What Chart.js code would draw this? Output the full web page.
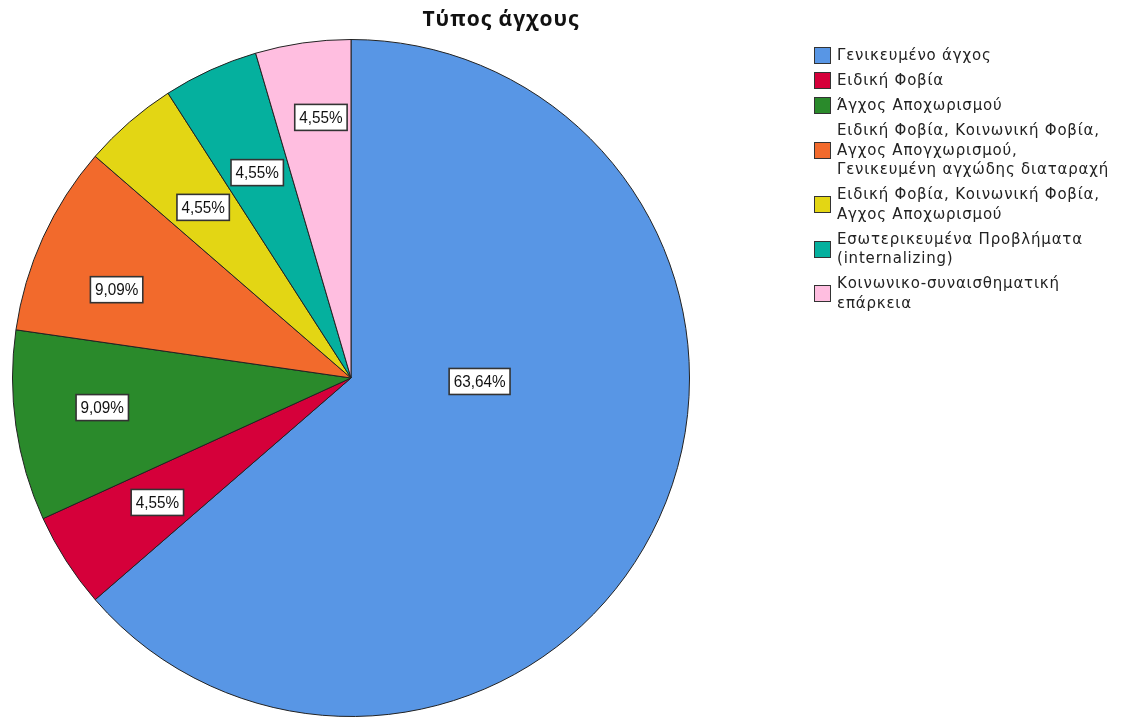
<!DOCTYPE html>
<html>
<head>
<meta charset="utf-8">
<script src="https://cdn.jsdelivr.net/npm/chart.js@4/dist/chart.umd.min.js"></script>
<style>
  body { margin: 0; background: #fff; }
  #wrap { position: relative; width: 1124px; height: 719px; }
  #title { position: absolute; left: 351px; width: 300px; top: 4px; text-align: center;
           font: bold 21px "Open Sans", sans-serif; letter-spacing: 1px; color: #111; }
  #legend { position: absolute; left: 814px; top: 46px;
            font: 15px "DejaVu Sans", sans-serif; letter-spacing: 0.8px; color: #222; }
  .item { display: flex; align-items: center; margin-bottom: 5.5px; }
  .box { width: 15px; height: 15px; border: 1px solid #333; margin-right: 6px; flex: none; }
  .txt { line-height: 19.5px; white-space: nowrap; }
</style>
</head>
<body>
<div id="wrap">
  <canvas id="mycanvas" width="1124" height="719"></canvas>
  <div id="title">Τύπος άγχους</div>
  <div id="legend"></div>
</div>
<script>
var categories = [
  "Γενικευμένο άγχος",
  "Ειδική Φοβία",
  "Άγχος Αποχωρισμού",
  "Ειδική Φοβία, Κοινωνική Φοβία,\nΑγχος Απογχωρισμού,\nΓενικευμένη αγχώδης διαταραχή",
  "Ειδική Φοβία, Κοινωνική Φοβία,\nΑγχος Αποχωρισμού",
  "Εσωτερικευμένα Προβλήματα\n(internalizing)",
  "Κοινωνικο-συναισθηματική\nεπάρκεια"
];
var counts = [14, 1, 2, 2, 1, 1, 1];
var percentLabels = ["63,64%", "4,55%", "9,09%", "9,09%", "4,55%", "4,55%", "4,55%"];
var colors = ["#5896E5", "#D5003A", "#2A8A2B", "#F26A2C", "#E3D614", "#05B09E", "#FFBEE0"];

// label placement: radius fraction and angle shift (deg) from slice middle
var labelRadius = [0.38, 0.68, 0.74, 0.74, 0.667, 0.667, 0.775];
var labelShift = [-23, 0, 1.4, -3.9, 0, 0, 1.6];

// legend
var legend = document.getElementById("legend");
for (var i in categories) {
  var it = document.createElement("div");
  it.className = "item";
  var b = document.createElement("div");
  b.className = "box";
  b.style.background = colors[i];
  var t = document.createElement("div");
  t.className = "txt";
  t.innerHTML = categories[i].split("\n").join("<br>");
  it.appendChild(b);
  it.appendChild(t);
  legend.appendChild(it);
}

var labelPlugin = {
  id: "pctLabels",
  afterDatasetsDraw: function(chart) {
    var ctx = chart.ctx;
    var arcs = chart.getDatasetMeta(0).data;
    var sx = 0.9; // narrow the label text a bit
    ctx.save();
    ctx.font = "17px 'Liberation Sans', Arial, sans-serif";
    ctx.textAlign = "center";
    ctx.textBaseline = "middle";
    arcs.forEach(function(arc, i) {
      var mid = (arc.startAngle + arc.endAngle) / 2 + labelShift[i] * Math.PI / 180;
      var r = arc.outerRadius * labelRadius[i];
      var x = arc.x + Math.cos(mid) * r;
      var y = arc.y + Math.sin(mid) * r;
      var w = ctx.measureText(percentLabels[i]).width * sx + 9;
      var h = 26;
      ctx.fillStyle = "#fff";
      ctx.fillRect(x - w / 2, y - h / 2, w, h);
      ctx.lineWidth = 1.6;
      ctx.strokeStyle = "#333";
      ctx.strokeRect(x - w / 2, y - h / 2, w, h);
      ctx.fillStyle = "#111";
      ctx.save();
      ctx.translate(x, y + 1);
      ctx.scale(sx, 1);
      ctx.fillText(percentLabels[i], 0, 0);
      ctx.restore();
    });
    ctx.restore();
  }
};

var chart = new Chart(document.getElementById("mycanvas"), {
  type: "pie",
  data: {
    labels: categories,
    datasets: [{
      data: counts,
      backgroundColor: colors,
      borderColor: "#222",
      borderWidth: 1
    }]
  },
  options: {
    responsive: false,
    animation: false,
    layout: { padding: { left: 12, right: 434, top: 39, bottom: 2 } },
    plugins: {
      legend: { display: false },
      tooltip: { enabled: false },
      title: { display: false }
    }
  },
  plugins: [labelPlugin]
});
</script>
</body>
</html>
